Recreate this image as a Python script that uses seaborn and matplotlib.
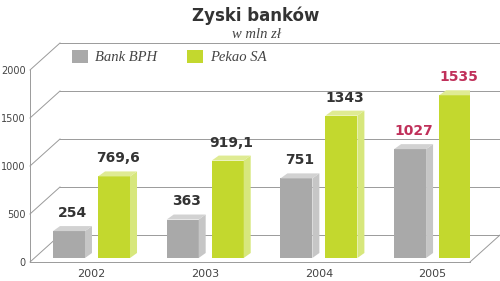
import matplotlib
matplotlib.use("Agg")
import matplotlib.pyplot as plt
import seaborn as sns
import pandas as pd
from matplotlib.patches import Polygon, Patch

# ---- data ----
years = ["2002", "2003", "2004", "2005"]
banks = ["Bank BPH", "Pekao SA"]
bph = [254, 363, 751, 1027]
pekao = [769.6, 919.1, 1343, 1535]
bph_labels = ["254", "363", "751", "1027"]
pekao_labels = ["769,6", "919,1", "1343", "1535"]
y_ticks = [0, 500, 1000, 1500, 2000]

title = "Zyski banków"
subtitle = "w mln zł"

# ---- style ----
gray_front, gray_side, gray_top = "#a9a9a9", "#c6c6c6", "#d2d2d2"
green_front, green_side, green_top = "#c3d82e", "#d7e77c", "#dfeb93"
grid_col = "#9a9a9a"
txt_col = "#333333"
red_col = "#c0305a"

df = pd.DataFrame({
    "year": years * 2,
    "bank": [banks[0]] * 4 + [banks[1]] * 4,
    "value": bph + pekao,
})

W, H = 500, 281
fig = plt.figure(figsize=(W / 100, H / 100), dpi=100)
rect = [30 / W, 19 / H, 440 / W, 192 / H]
ax_grid = fig.add_axes(rect)
ax_bar = fig.add_axes(rect)
ax_bar.patch.set_alpha(0)

XL = (-0.541, 3.329)
px_per_u = 113.7
x_right_fig = (W - 91.5) / px_per_u

# grid axis (front scale)
ax_grid.set_xlim(*XL)
ax_grid.set_ylim(0, 2000)
for s in ax_grid.spines.values():
    s.set_visible(False)
ax_grid.set_xticks([])
ax_grid.set_yticks(y_ticks)
ax_grid.set_yticklabels([str(v) for v in y_ticks])
ax_grid.tick_params(axis="y", length=0, pad=3, labelsize=7, labelcolor="#444444")

gdx = 30 / px_per_u
gdy = 27 / (192 / 2000)
lw = 0.7
for v in y_ticks:
    ax_grid.plot([XL[0], XL[0] + gdx], [v, v + gdy], color=grid_col, lw=lw, clip_on=False)
    ax_grid.plot([XL[0] + gdx, x_right_fig], [v + gdy, v + gdy], color=grid_col, lw=lw, clip_on=False)
ax_grid.plot([XL[0], XL[0]], [0, 2000], color=grid_col, lw=lw, clip_on=False)
ax_grid.plot([XL[0], XL[1]], [0, 0], color=grid_col, lw=lw, clip_on=False)
ax_grid.plot([XL[1], XL[1] + gdx], [0, gdy], color=grid_col, lw=lw, clip_on=False)

# bars
sns.barplot(data=df, x="year", y="value", hue="bank", ax=ax_bar,
            palette=[gray_front, green_front], width=0.792, gap=0.29,
            saturation=1, legend=False, linewidth=0)
ax_bar.set_xlim(*XL)
ax_bar.set_ylim(-4 / 0.106, 188 / 0.106)
for s in ax_bar.spines.values():
    s.set_visible(False)
ax_bar.set_yticks([])
ax_bar.set_xlabel("")
ax_bar.set_ylabel("")
ax_bar.tick_params(axis="x", length=0, pad=5, labelsize=8, labelcolor="#444444")

bdx = 7 / px_per_u
bdy = 5 / 0.106
patches = list(ax_bar.patches)
labels_all = bph_labels + pekao_labels
for i, p in enumerate(patches):
    x0, w, h = p.get_x(), p.get_width(), p.get_height()
    is_bph = i < 4
    side = gray_side if is_bph else green_side
    top = gray_top if is_bph else green_top
    ax_bar.add_patch(Polygon([(x0 + w, 0), (x0 + w + bdx, bdy), (x0 + w + bdx, h + bdy), (x0 + w, h)],
                             closed=True, facecolor=side, edgecolor="none", zorder=p.get_zorder()))
    ax_bar.add_patch(Polygon([(x0, h), (x0 + bdx, h + bdy), (x0 + w + bdx, h + bdy), (x0 + w, h)],
                             closed=True, facecolor=top, edgecolor="none", zorder=p.get_zorder()))
    col = red_col if (i % 4) == 3 else txt_col
    ax_bar.annotate(labels_all[i], (x0 + w / 2 + bdx / 2, h + bdy), xytext=(0, 6.5),
                    textcoords="offset points", ha="center", va="baseline",
                    fontsize=10, fontweight="bold", color=col, family="DejaVu Sans")

# legend
handles = [Patch(facecolor=gray_front, edgecolor="none"), Patch(facecolor=green_front, edgecolor="none")]
fig.legend(handles, banks, loc="upper left", bbox_to_anchor=(72 / W, 1 - 50 / H), ncol=2,
           frameon=False, handlelength=1.1, handleheight=0.95, handletextpad=0.45,
           columnspacing=2.1, borderpad=0, borderaxespad=0,
           prop={"family": "Liberation Serif", "style": "italic", "size": 10.5},
           labelcolor="#444444")

fig.text(256 / W, 1 - 16 / H, title, ha="center", va="center", fontsize=12,
         fontweight="bold", color=txt_col, family="DejaVu Sans")
fig.text(257 / W, 1 - 34 / H, subtitle, ha="center", va="center", fontsize=10.5,
         style="italic", color="#444444", family="Liberation Serif")

fig.savefig("out.png", dpi=100)
